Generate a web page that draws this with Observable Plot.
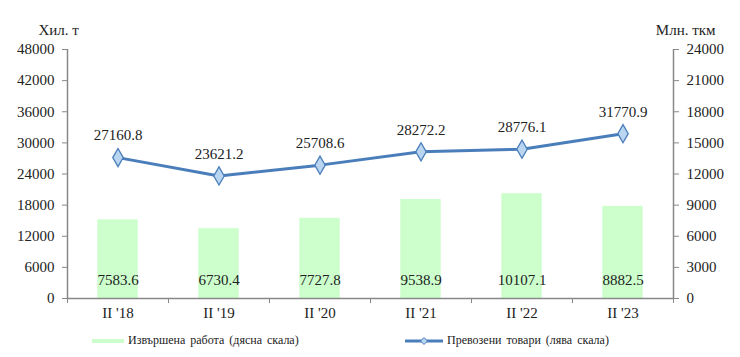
<!DOCTYPE html>
<html>
<head>
<meta charset="utf-8">
<script src="https://cdn.jsdelivr.net/npm/d3@7"></script>
<script src="https://cdn.jsdelivr.net/npm/@observablehq/plot@0.6"></script>
<style>
  body { margin: 0; background: #fff; }
  #wrap { width: 740px; height: 357px; position: relative; font-family: "Liberation Serif", "DejaVu Serif", serif; }
  #legend { position: relative; height: 27px; font-size: 12px; color: #222; word-spacing: 2px; }
  .item { position: absolute; top: 3px; display: flex; align-items: center; white-space: nowrap; }
  .item svg { margin-right: 4px; }
  svg text { font-family: "Liberation Serif", "DejaVu Serif", serif; }
</style>
</head>
<body>
<div id="wrap">
  <div id="chart"></div>
  <div id="legend"></div>
</div>
<script>
const categories = ["II '18", "II '19", "II '20", "II '21", "II '22", "II '23"];
// Извършена работа (дясна скала), млн. ткм
const workDone = [7583.6, 6730.4, 7727.8, 9538.9, 10107.1, 8882.5];
// Превозени товари (лява скала), хил. т
const goodsCarried = [27160.8, 23621.2, 25708.6, 28272.2, 28776.1, 31770.9];
const leftTicks = [0, 6000, 12000, 18000, 24000, 30000, 36000, 42000, 48000];
const rightTicks = [0, 3000, 6000, 9000, 12000, 15000, 18000, 21000, 24000];
const seriesNames = ["Извършена работа (дясна скала)", "Превозени товари (лява скала)"];
const axisTitles = ["Хил. т", "Млн. ткм"];

const ratio = d3.max(leftTicks) / d3.max(rightTicks);
const data = categories.map((c, i) => ({ i, cat: c, work: workDone[i], goods: goodsCarried[i] }));

const green = "#ccffcc";
const blue = "#4a7ebb";
const markerFill = "#b9d5f0";
const axisColor = "#888";
const textColor = "#222";
const serif = "'Liberation Serif', 'DejaVu Serif', serif";

const chart = Plot.plot({
  width: 740,
  height: 330,
  marginLeft: 67,
  marginRight: 67,
  marginTop: 49,
  marginBottom: 32,
  style: { fontFamily: serif, fontSize: "15px", color: textColor, background: "white" },
  x: { domain: [0, categories.length], axis: null, label: null },
  y: { domain: [0, d3.max(leftTicks)], axis: null, label: null },
  marks: [
    Plot.rectY(data, { x1: d => d.i + 0.3, x2: d => d.i + 0.7, y: d => d.work * ratio, fill: green }),
    Plot.ruleX([0, categories.length], { stroke: axisColor, strokeWidth: 1.5 }),
    Plot.ruleY([0], { stroke: axisColor, strokeWidth: 1.5 }),
    Plot.axisY({ anchor: "left", label: null, ticks: leftTicks, tickFormat: d => String(d), tickSize: 5, tickPadding: 8, stroke: axisColor, fill: textColor, fontSize: 15 }),
    Plot.axisY({ anchor: "right", label: null, ticks: leftTicks, tickFormat: (d, k) => String(rightTicks[k]), tickSize: 5, tickPadding: 8, stroke: axisColor, fill: textColor, fontSize: 15 }),
    Plot.axisX({ anchor: "bottom", label: null, ticks: d3.range(categories.length + 1), tickFormat: () => "", tickSize: 5, stroke: axisColor }),
    Plot.axisX({ anchor: "bottom", label: null, ticks: data.map(d => d.i + 0.5), tickFormat: v => categories[Math.floor(v)], tickSize: 0, tickPadding: 9, fill: textColor, fontSize: 15 }),
    Plot.text(data, { x: d => d.i + 0.5, frameAnchor: "bottom", dy: -14, text: d => d.work.toFixed(1), fill: textColor, fontSize: 15 }),
    Plot.line(data, { x: d => d.i + 0.5, y: "goods", stroke: blue, strokeWidth: 3 }),
    Plot.dot(data, { x: d => d.i + 0.5, y: "goods", symbol: "diamond", r: 5.5, fill: markerFill, stroke: blue, strokeWidth: 1.3 }),
    Plot.text(data, { x: d => d.i + 0.5, y: "goods", dy: -22, text: d => d.goods.toFixed(1), fill: textColor, fontSize: 15 }),
    Plot.text([axisTitles[0]], { frameAnchor: "top-left", textAnchor: "start", dx: -29, dy: -25, fill: textColor, fontSize: 15 }),
    Plot.text([axisTitles[1]], { frameAnchor: "top-right", textAnchor: "end", dx: 42, dy: -25, fill: textColor, fontSize: 15 })
  ]
});
document.getElementById("chart").appendChild(chart);

const legend = document.getElementById("legend");
legend.innerHTML = `
  <div class="item" style="left:92px">
    <svg width="32" height="10"><line x1="0" x2="32" y1="5" y2="5" stroke="${green}" stroke-width="4"/></svg>
    <span>${seriesNames[0]}</span>
  </div>
  <div class="item" style="left:405px">
    <svg width="38" height="10"><line x1="0" x2="38" y1="5" y2="5" stroke="${blue}" stroke-width="3"/>
      <path d="M19 1.5 L22.5 5 L19 8.5 L15.5 5 Z" fill="${markerFill}" stroke="${blue}" stroke-width="1"/></svg>
    <span>${seriesNames[1]}</span>
  </div>`;
</script>
</body>
</html>
